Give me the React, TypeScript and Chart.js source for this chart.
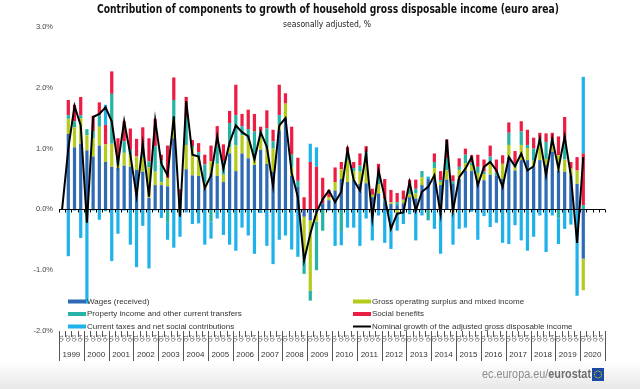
import React, { useEffect, useRef } from 'react';
import { Chart, registerables } from 'chart.js';
Chart.register(...registerables);

const years = ['1999','2000','2001','2002','2003','2004','2005','2006','2007','2008','2009','2010','2011','2012','2013','2014','2015','2016','2017','2018','2019','2020'];
const quarterNames = ['Q1','Q2','Q3','Q4'];
const categories = years.flatMap((y) => quarterNames.map((q) => `${y}${q}`));
const yTicks = [-2, -1, 0, 1, 2, 3];

const wages = [null,
  1.24, 1.02, 1.08, 0.97, 0.87, 1.05, 0.78, 0.70, 0.68, 0.72, 0.70, 0.65, 0.62, 0.19, 0.40, 0.40, 0.38, 1.17, 0.15, 0.66,
  0.56, 0.55, 0.34, 0.59, 0.55, 0.45, 0.92, 0.63, 0.92, 0.84, 0.73, 0.98, 0.75, 0.62, 1.30, 1.50, 0.55, 0.37, -0.12, -0.18,
  -0.05, 0.10, 0.15, 0.31, 0.50, 0.45, 0.48, 0.42, 0.43, 0.20, 0.26, 0.12, 0.09, 0.07, 0.10, 0.20, 0.18, 0.40, 0.50, 0.48,
  0.40, 0.49, 0.42, 0.50, 0.64, 0.63, 0.45, 0.48, 0.57, 0.56, 0.50, 0.86, 0.64, 0.81, 0.81, 0.70, 0.81, 0.73, 0.95, 0.64,
  0.62, 0.56, 0.42, -0.81, null, null, null];
const gos = [null,
  0.25, 0.33, 0.42, 0.25, 0.30, 0.31, 0.29, 0.38, 0.05, 0.21, 0.20, 0.22, 0.23, 0.50, 0.22, 0.05, 0.14, 0.30, 0.05, 0.40,
  0.45, 0.30, 0.10, 0.20, 0.20, 0.12, 0.10, 0.42, 0.30, 0.30, 0.10, 0.20, 0.25, 0.38, 0.10, 0.24, 0.15, 0.00, -0.60, -1.16,
  -0.15, 0.00, 0.05, 0.14, 0.16, 0.35, 0.15, 0.20, 0.35, 0.04, 0.15, 0.00, 0.03, -0.05, 0.05, 0.05, 0.08, 0.13, 0.00, 0.20,
  0.05, 0.15, -0.05, 0.15, 0.12, 0.10, 0.15, 0.10, 0.20, 0.00, 0.25, 0.20, 0.06, 0.25, 0.20, 0.10, 0.25, 0.10, 0.10, 0.25,
  0.20, 0.11, 0.22, -0.52, null, null, null];
const property = [null,
  0.06, 0.10, 0.05, 0.10, 0.12, 0.19, -0.03, 0.82, 0.10, 0.19, 0.08, 0.00, 0.05, 0.10, 0.42, 0.35, -0.22, 0.33, -0.10, 0.45,
  0.03, 0.09, 0.30, -0.20, 0.30, 0.22, 0.40, 0.50, 0.15, 0.18, 0.45, 0.10, 0.33, 0.12, 0.15, 0.00, 0.20, 0.10, -0.34, -0.16,
  -0.80, -0.35, 0.00, 0.00, -0.37, 0.08, 0.05, 0.10, 0.16, 0.00, 0.14, 0.05, 0.00, 0.05, 0.01, 0.10, 0.08, 0.10, -0.18, 0.10,
  0.03, 0.20, 0.04, 0.05, 0.14, 0.04, 0.10, 0.04, 0.10, 0.05, 0.00, 0.20, 0.06, 0.22, 0.05, 0.20, 0.10, 0.28, 0.10, -0.15,
  0.28, 0.00, 0.00, 0.07, null, null, null];
const social = [null,
  0.25, 0.27, 0.30, 0.00, 0.25, 0.21, 0.32, 0.37, 0.34, 0.33, 0.35, 0.29, 0.45, 0.38, 0.45, 0.10, 0.53, 0.37, 0.13, 0.34,
  0.10, 0.15, 0.16, 0.26, 0.32, 0.28, 0.20, 0.50, 0.20, 0.32, 0.29, 0.08, 0.30, 0.19, 0.50, 0.17, 0.46, 0.38, 0.20, 0.78,
  0.70, 0.42, 0.12, 0.24, 0.12, 0.15, 0.10, 0.20, 0.10, 0.10, 0.20, 0.33, 0.20, 0.15, 0.15, 0.14, 0.15, 0.00, 0.00, 0.14,
  0.15, 0.31, 0.10, 0.14, 0.10, 0.12, 0.20, 0.20, 0.18, 0.21, 0.14, 0.17, 0.20, 0.17, 0.25, 0.18, 0.10, 0.14, 0.11, 0.31,
  0.42, 0.11, 0.22, 0.85, null, null, null];
const taxes = [null,
  -0.77, -0.02, -0.47, -1.55, -0.02, -0.17, 0.33, -0.85, -0.40, -0.02, -0.58, -0.95, -0.27, -0.97, -0.02, -0.14, -0.28, -0.63, -0.35, -0.05,
  -0.24, -0.23, -0.58, -0.28, -0.15, -0.42, -0.58, -0.68, -0.30, -0.43, -0.73, -0.06, -0.60, -0.90, -0.50, -0.43, -0.66, -0.78, 0.00, 0.30,
  0.32, 0.00, -0.02, -0.60, -0.22, -0.30, -0.30, -0.60, -0.15, -0.51, -0.10, -0.55, -0.65, -0.30, -0.24, -0.08, -0.51, -0.10, 0.04, -0.32,
  -0.73, 0.00, -0.53, -0.32, -0.30, -0.04, -0.50, -0.11, -0.29, -0.22, -0.55, -0.57, -0.26, -0.51, -0.68, -0.45, -0.10, -0.70, -0.10, -0.42,
  -0.32, -0.25, -1.42, 1.26, null, null, null];
const nominal = [0,
  1.00, 1.70, 1.38, -0.22, 1.52, 1.57, 1.68, 1.45, 0.75, 1.45, 0.90, 0.22, 1.08, 0.21, 1.47, 0.75, 0.56, 1.53, -0.12, 1.78,
  0.90, 0.87, 0.35, 0.56, 1.20, 0.67, 1.10, 1.38, 1.27, 1.20, 0.82, 1.27, 1.03, 0.38, 1.38, 1.50, 0.60, 0.20, -0.84, -0.40,
  -0.05, 0.17, 0.31, 0.12, 0.29, 0.98, 0.48, 0.31, 0.92, -0.15, 0.64, 0.20, -0.32, -0.07, -0.05, 0.45, -0.02, 0.29, 0.37, 0.56,
  -0.08, 1.15, -0.02, 0.53, 0.67, 0.86, 0.40, 0.70, 0.78, 0.64, 0.37, 0.86, 0.71, 0.92, 0.64, 0.71, 1.16, 0.56, 1.16, 0.67,
  1.20, 0.55, -0.55, 0.86, null, null, null];

const seriesNames = [
  'Wages (received)',
  'Gross operating surplus and mixed income',
  'Property income and other current transfers',
  'Social benefits',
  'Current taxes and net social contributions',
  'Nominal growth of the adjusted gross disposable income',
];
const seriesColors = ['#2f6bb5', '#b5cb1c', '#25b3a6', '#ec1c42', '#1fb2ea', '#000000'];

const FONT = '"Liberation Sans", Arial, sans-serif';
const NARROW = '"Liberation Sans Narrow", "DejaVu Sans Condensed", "Liberation Sans", sans-serif';

const customPlugin = {
  id: 'customDecor',
  beforeDraw(chart: any) {
    const ctx = chart.ctx;
    ctx.save();
    ctx.fillStyle = '#ffffff';
    ctx.fillRect(0, 0, chart.width, chart.height);
    const g = ctx.createLinearGradient(0, 361, 0, 389);
    g.addColorStop(0, '#ffffff');
    g.addColorStop(1, '#e8e8e8');
    ctx.fillStyle = g;
    ctx.fillRect(0, 361, chart.width, 28);
    ctx.restore();
  },
  afterDatasetsDraw(chart: any) {
    const ctx = chart.ctx;
    const area = chart.chartArea;
    const ys = chart.scales.y;
    const n = categories.length;
    const w = (area.right - area.left) / n;
    const y0 = Math.round(ys.getPixelForValue(0)) + 0.5;
    ctx.save();
    ctx.strokeStyle = '#000';
    ctx.lineWidth = 1;
    ctx.beginPath();
    ctx.moveTo(area.left, y0);
    ctx.lineTo(area.right, y0);
    for (let k = 0; k <= n; k++) {
      const x = Math.round(area.left + k * w) + 0.5;
      ctx.moveTo(x, y0);
      ctx.lineTo(x, y0 + 3);
    }
    ctx.stroke();
    ctx.restore();
  },
  afterDraw(chart: any) {
    const ctx = chart.ctx;
    const area = chart.chartArea;
    const n = categories.length;
    const w = (area.right - area.left) / n;
    const bottom = area.bottom;
    ctx.save();

    // Title and subtitle
    ctx.fillStyle = '#111';
    ctx.textAlign = 'center';
    ctx.textBaseline = 'middle';
    ctx.font = `bold 12.5px ${NARROW}`;
    ctx.fillText('Contribution of components to growth of household gross disposable income (euro area)', 328, 10, 462);
    ctx.fillStyle = '#222';
    ctx.font = `8.5px ${NARROW}`;
    ctx.fillText('seasonally adjusted, %', 327, 24.5, 92);

    // Legend
    ctx.font = `8px ${FONT}`;
    ctx.textAlign = 'left';
    ctx.fillStyle = '#333';
    const rows = [301.5, 314, 326.5];
    const cols = [68, 353];
    const layout = [[0, 0], [2, 0], [4, 0], [1, 1], [3, 1], [5, 1]];
    layout.forEach(([s, c], idx) => {
      const r = idx % 3;
      const x = cols[c];
      const y = rows[r];
      if (s === 5) {
        ctx.strokeStyle = '#000';
        ctx.lineWidth = 2;
        ctx.beginPath();
        ctx.moveTo(x, y);
        ctx.lineTo(x + 18, y);
        ctx.stroke();
      } else {
        ctx.fillStyle = seriesColors[s];
        ctx.fillRect(x, y - 2, 18, 4);
      }
      ctx.fillStyle = '#333';
      ctx.fillText(seriesNames[s], x + 19, y);
    });

    // X axis: quarter ticks, labels, year separators and labels
    ctx.strokeStyle = '#555';
    ctx.lineWidth = 1;
    ctx.beginPath();
    for (let k = 0; k <= n; k++) {
      const x = Math.round(area.left + k * w) + 0.5;
      const yearEdge = k % 4 === 0;
      ctx.moveTo(x, bottom);
      ctx.lineTo(x, yearEdge ? bottom + 30 : bottom + 6);
    }
    ctx.stroke();

    ctx.fillStyle = '#555';
    ctx.font = `5px ${FONT}`;
    ctx.textBaseline = 'middle';
    categories.forEach((c, i) => {
      const cx = area.left + (i + 0.5) * w;
      ctx.save();
      ctx.translate(cx, bottom + 4);
      ctx.rotate(-Math.PI / 2);
      ctx.textAlign = 'right';
      ctx.fillText(c.slice(4), 0, 0);
      ctx.restore();
    });

    ctx.fillStyle = '#333';
    ctx.font = `8px ${FONT}`;
    ctx.textAlign = 'center';
    years.forEach((y, j) => {
      const cx = area.left + (j * 4 + 2) * w;
      ctx.fillText(y, cx, bottom + 24, 4 * w - 3);
    });

    // Footer
    ctx.textBaseline = 'middle';
    ctx.textAlign = 'left';
    const part1 = 'ec.europa.eu/';
    const part2 = 'eurostat';
    ctx.font = `12px ${FONT}`;
    const w1 = ctx.measureText(part1).width;
    ctx.font = `bold 12px ${FONT}`;
    const w2 = ctx.measureText(part2).width;
    const total = w1 + w2;
    const target = 109;
    const sx = target / total;
    ctx.save();
    ctx.translate(482, 375);
    ctx.scale(sx, 1);
    ctx.font = `12px ${FONT}`;
    ctx.fillStyle = '#8c8c8c';
    ctx.fillText(part1, 0, 0);
    ctx.font = `bold 12px ${FONT}`;
    ctx.fillStyle = '#6e6e6e';
    ctx.fillText(part2, w1, 0);
    ctx.restore();
    // EU flag
    ctx.fillStyle = '#1a4aa3';
    ctx.fillRect(592, 368, 12, 13);
    ctx.fillStyle = '#f4d400';
    for (let s = 0; s < 12; s++) {
      const a = (s / 12) * Math.PI * 2;
      ctx.fillRect(598 + Math.cos(a) * 3.5 - 0.5, 374.5 + Math.sin(a) * 3.5 - 0.5, 1, 1);
    }
    ctx.restore();
  },
};

export default function App() {
  const ref = useRef<HTMLCanvasElement>(null);
  useEffect(() => {
    if (!ref.current) return;
    const barDs = (label: string, data: (number | null)[], color: string) => ({
      type: 'bar' as const,
      label,
      data,
      backgroundColor: color,
      borderWidth: 0,
      categoryPercentage: 1,
      barPercentage: 0.52,
      order: 1,
    });
    const chart = new Chart(ref.current, {
      type: 'bar',
      data: {
        labels: categories,
        datasets: [
          barDs(seriesNames[0], wages, seriesColors[0]),
          barDs(seriesNames[1], gos, seriesColors[1]),
          barDs(seriesNames[2], property, seriesColors[2]),
          barDs(seriesNames[3], social, seriesColors[3]),
          barDs(seriesNames[4], taxes, seriesColors[4]),
          {
            type: 'line' as const,
            label: seriesNames[5],
            data: nominal,
            borderColor: '#000',
            borderWidth: 2,
            pointRadius: 0,
            tension: 0,
            fill: false,
            order: 0,
          } as any,
        ],
      },
      options: {
        responsive: false,
        animation: false,
        devicePixelRatio: 1,
        layout: { padding: { left: 0, top: 27, right: 35, bottom: 58 } },
        plugins: { legend: { display: false }, tooltip: { enabled: false }, title: { display: false } },
        scales: {
          x: {
            stacked: true,
            display: false,
          },
          y: {
            stacked: true,
            min: -2,
            max: 3,
            afterFit: (scale: any) => { scale.width = 59; },
            afterBuildTicks: (scale: any) => { scale.ticks = yTicks.map((v) => ({ value: v })); },
            grid: { display: false, drawTicks: false },
            border: { display: false },
            ticks: {
              padding: 6,
              color: '#444',
              font: { size: 7.5, family: FONT },
              callback: (v: any) => `${Number(v).toFixed(1)}%`,
            },
          },
        },
      },
      plugins: [customPlugin],
    } as any);
    return () => chart.destroy();
  }, []);
  return (
    <div style={{ position: 'fixed', left: 0, top: 0, width: 640, height: 389, background: '#fff' }}>
      <canvas ref={ref} width={640} height={389} style={{ display: 'block', width: 640, height: 389 }} />
    </div>
  );
}
